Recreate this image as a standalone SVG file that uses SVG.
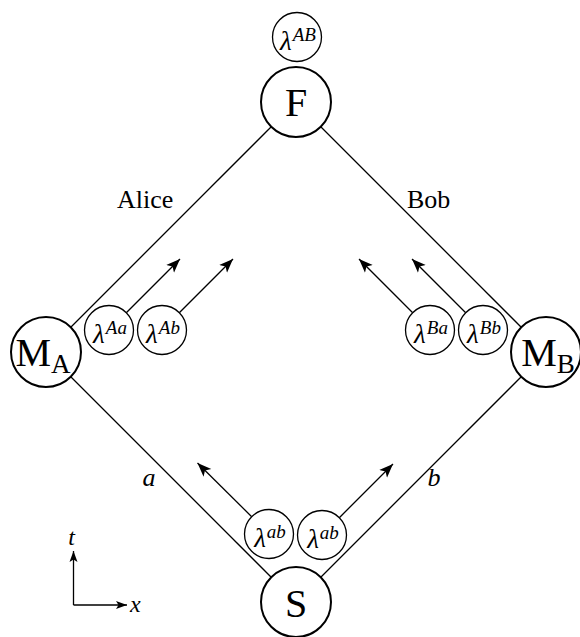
<svg xmlns="http://www.w3.org/2000/svg" width="580" height="637" viewBox="0 0 580 637">
<style>
.big{fill:#fff;stroke:#000;stroke-width:2}
.sm{fill:#fff;stroke:#000;stroke-width:1.3}
.ln{stroke:#000;stroke-width:1.3;fill:none}
.ar{stroke:#000;stroke-width:1.3;fill:none;marker-end:url(#ah)}
.ax{stroke:#000;stroke-width:1.3;fill:none;marker-end:url(#ahs)}
text{font-family:"Liberation Serif","Times New Roman",serif;fill:#000}
.nl{font-size:40px}
.lam{font-size:27px;font-style:italic}
.sup{font-size:19px;font-style:italic}
.lbl{font-size:26px}
.it{font-style:italic}
</style>
<defs>
<marker id="ah" markerUnits="userSpaceOnUse" viewBox="0 -6 15 12" refX="14" refY="0" markerWidth="15" markerHeight="12" orient="auto">
<path d="M14,0 L0,5.5 L3.5,0 L0,-5.5 Z" fill="#000"/>
</marker>
<marker id="ahs" markerUnits="userSpaceOnUse" viewBox="0 -5 12 10" refX="11" refY="0" markerWidth="12" markerHeight="10" orient="auto">
<path d="M11,0 L0,4 L2.5,0 L0,-4 Z" fill="#000"/>
</marker>
</defs>
<g id="connectors">
<line class="ln" x1="271.25" y1="126.75" x2="70.75" y2="327.25"/>
<line class="ln" x1="320.75" y1="126.75" x2="521.25" y2="327.25"/>
<line class="ln" x1="271.25" y1="577.25" x2="70.75" y2="376.75"/>
<line class="ln" x1="320.75" y1="577.25" x2="521.25" y2="376.75"/>
<line class="ar" x1="126.3" y1="312.7" x2="180" y2="259"/>
<line class="ar" x1="179.3" y1="312.7" x2="233" y2="259"/>
<line class="ar" x1="412.7" y1="312.7" x2="359" y2="259"/>
<line class="ar" x1="465.7" y1="312.7" x2="412" y2="259"/>
<line class="ar" x1="251.7" y1="516.7" x2="197.5" y2="463"/>
<line class="ar" x1="339.3" y1="517.7" x2="393" y2="464"/>
</g>
<g id="axes">
<line class="ax" x1="73.5" y1="605" x2="73.5" y2="551"/>
<line class="ax" x1="73.5" y1="605" x2="127" y2="605"/>
<text class="it" x="71.5" y="545" font-size="24" text-anchor="middle">t</text>
<text class="it" x="130" y="612" font-size="24">x</text>
</g>
<g id="labels">
<text class="lbl" x="117" y="208">Alice</text>
<text class="lbl" x="407" y="208">Bob</text>
<text class="lbl it" x="149" y="486" text-anchor="middle">a</text>
<text class="lbl it" x="434" y="486" text-anchor="middle">b</text>
</g>
<g id="lamAB">
<circle class="sm" cx="297" cy="37" r="24.5"/>
<text x="298" y="50" text-anchor="middle"><tspan class="lam">λ</tspan><tspan class="sup" dx="1" dy="-9">AB</tspan></text>
</g>
<g id="F">
<circle class="big" cx="296" cy="102" r="35"/>
<text class="nl" x="296" y="116" text-anchor="middle">F</text>
</g>
<g id="MA">
<circle class="big" cx="46" cy="352" r="35"/>
<text class="nl" x="43" y="366" text-anchor="middle">M<tspan font-size="27" dy="7">A</tspan></text>
</g>
<g id="MB">
<circle class="big" cx="546" cy="352" r="35"/>
<text class="nl" x="548" y="366" text-anchor="middle">M<tspan font-size="27" dy="7">B</tspan></text>
</g>
<g id="S">
<circle class="big" cx="296" cy="602" r="35"/>
<text class="nl" x="296" y="617" text-anchor="middle">S</text>
</g>
<g id="lamAa">
<circle class="sm" cx="109" cy="330" r="24.5"/>
<text x="110" y="343" text-anchor="middle"><tspan class="lam">λ</tspan><tspan class="sup" dx="1" dy="-9">Aa</tspan></text>
</g>
<g id="lamAb">
<circle class="sm" cx="162" cy="330" r="24.5"/>
<text x="163" y="343" text-anchor="middle"><tspan class="lam">λ</tspan><tspan class="sup" dx="1" dy="-9">Ab</tspan></text>
</g>
<g id="lamBa">
<circle class="sm" cx="430" cy="330" r="24.5"/>
<text x="431" y="343" text-anchor="middle"><tspan class="lam">λ</tspan><tspan class="sup" dx="1" dy="-9">Ba</tspan></text>
</g>
<g id="lamBb">
<circle class="sm" cx="483" cy="330" r="24.5"/>
<text x="484" y="343" text-anchor="middle"><tspan class="lam">λ</tspan><tspan class="sup" dx="1" dy="-9">Bb</tspan></text>
</g>
<g id="lamab1">
<circle class="sm" cx="269" cy="534" r="24.5"/>
<text x="270" y="547" text-anchor="middle"><tspan class="lam">λ</tspan><tspan class="sup" dx="1" dy="-9">ab</tspan></text>
</g>
<g id="lamab2">
<circle class="sm" cx="322" cy="535" r="24.5"/>
<text x="323" y="548" text-anchor="middle"><tspan class="lam">λ</tspan><tspan class="sup" dx="1" dy="-9">ab</tspan></text>
</g>
</svg>
